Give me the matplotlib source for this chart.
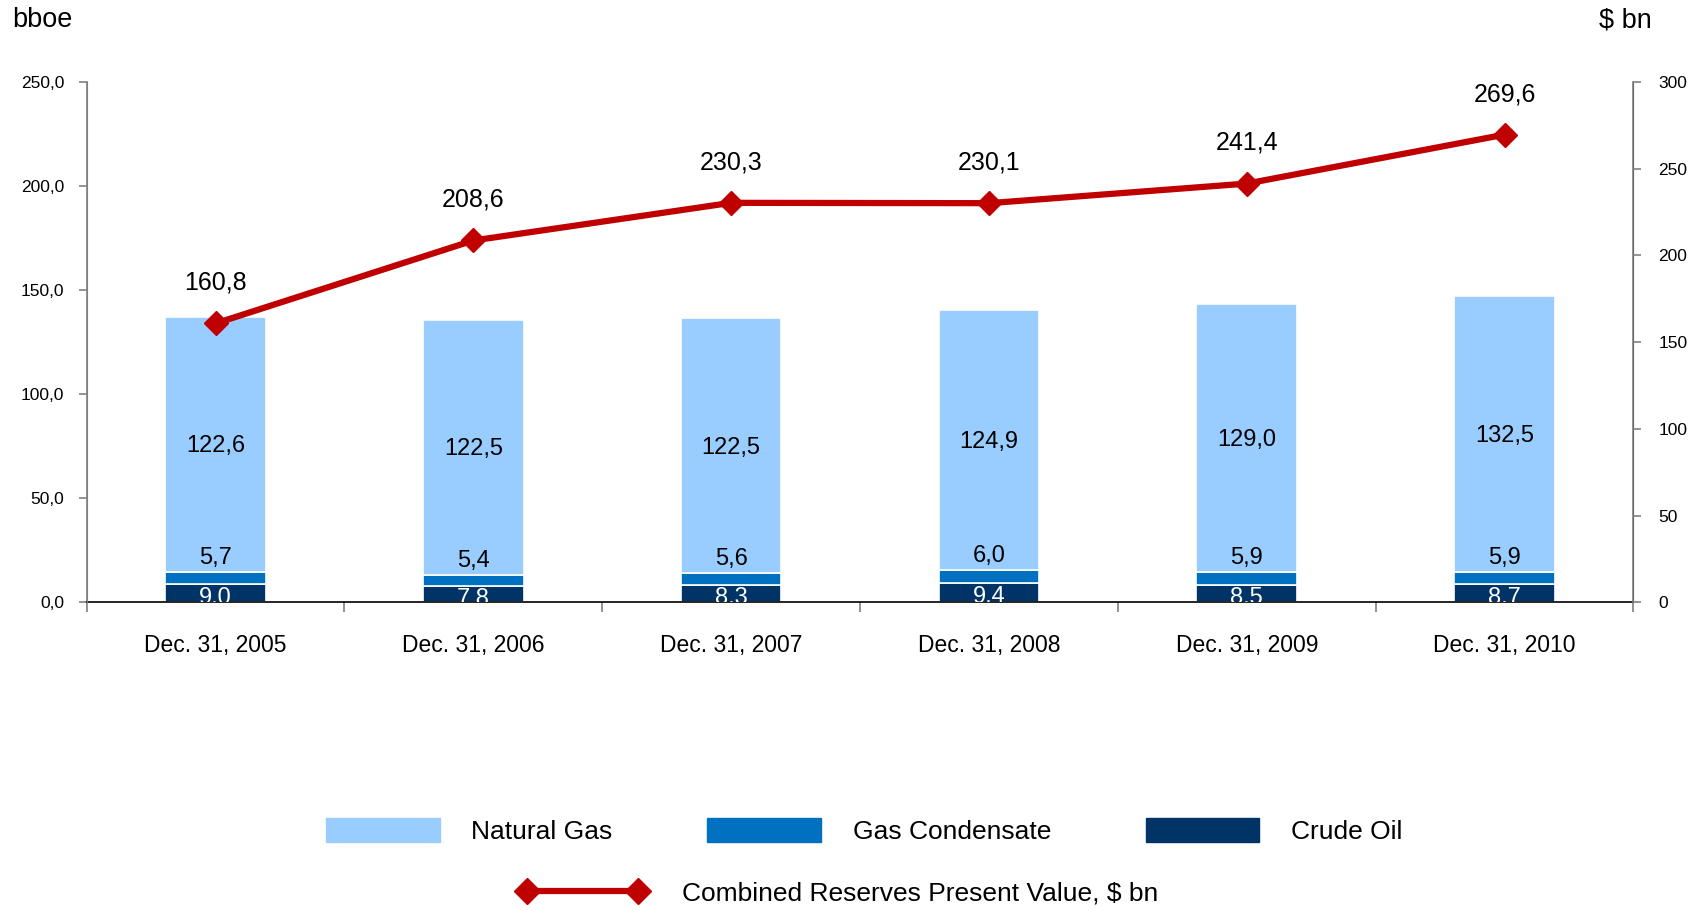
import numpy as np
import matplotlib
matplotlib.use("Agg")
import matplotlib.pyplot as plt
from matplotlib.patches import Patch
from matplotlib.lines import Line2D

plt.rcParams['font.family'] = ['Liberation Sans Narrow', 'Liberation Sans', 'DejaVu Sans']

dates = ["Dec. 31, 2005", "Dec. 31, 2006", "Dec. 31, 2007",
         "Dec. 31, 2008", "Dec. 31, 2009", "Dec. 31, 2010"]
crude_oil = [9.0, 7.8, 8.3, 9.4, 8.5, 8.7]
gas_condensate = [5.7, 5.4, 5.6, 6.0, 5.9, 5.9]
natural_gas = [122.6, 122.5, 122.5, 124.9, 129.0, 132.5]
present_value = [160.8, 208.6, 230.3, 230.1, 241.4, 269.6]

c_gas = "#99CCFF"
c_cond = "#0070C0"
c_oil = "#003366"
c_line = "#C00000"


def fmt(v):
    return ("%.1f" % v).replace(".", ",")


fig = plt.figure(figsize=(16.98, 9.10), dpi=100)
ax = fig.add_axes([0.051, 0.338, 0.911, 0.572])
ax2 = ax.twinx()

x = np.arange(len(dates))
w = 0.39
oil = np.array(crude_oil)
cond = np.array(gas_condensate)
gas = np.array(natural_gas)

ax.bar(x, oil, w, color=c_oil, edgecolor="white", linewidth=1.2, zorder=2)
ax.bar(x, cond, w, bottom=oil, color=c_cond, edgecolor="white", linewidth=1.2, zorder=2)
ax.bar(x, gas, w, bottom=oil + cond, color=c_gas, edgecolor="white", linewidth=1.2, zorder=2)

for i in range(len(x)):
    # crude oil labels sit low and get cut by the axis, like the original
    ax.text(x[i], oil[i] / 2 - 2.2, fmt(oil[i]), ha="center", va="center",
            color="white", fontsize=17, clip_on=True, zorder=3)
    ax.text(x[i], oil[i] + cond[i] + 1.5, fmt(cond[i]), ha="center", va="bottom",
            color="black", fontsize=17, zorder=3)
    ax.text(x[i], oil[i] + cond[i] + gas[i] / 2 - 1, fmt(gas[i]), ha="center", va="center",
            color="black", fontsize=17, zorder=3)

ax.set_xlim(-0.5, len(dates) - 0.5)
ax.set_ylim(0, 250)
ax.set_yticks(np.arange(0, 251, 50))
ax.set_yticklabels([fmt(v) for v in np.arange(0, 251, 50)], fontsize=12.5)
ax.set_xticks(x)
ax.set_xticklabels(dates, fontsize=16.5)
ax.tick_params(axis="x", length=0, pad=23)
ax.set_xticks(np.arange(-0.5, len(dates)), minor=True)
ax.tick_params(axis="x", which="minor", length=7, color="#808080", width=1.2)
ax.tick_params(axis="y", length=6, color="#808080", width=1.2, pad=10)

ax.spines["top"].set_visible(False)
ax2.spines["top"].set_visible(False)
ax.spines["left"].set_color("#808080")
ax2.spines["left"].set_color("#808080")
ax2.spines["right"].set_color("#808080")
ax.spines["left"].set_linewidth(1.2)
ax2.spines["right"].set_linewidth(1.2)
ax.spines["bottom"].set_color("black")
ax.spines["bottom"].set_linewidth(1.2)
ax2.spines["bottom"].set_visible(False)

ax2.plot(x, present_value, color=c_line, linewidth=4.5, marker="D", markersize=12,
         zorder=5)
for i in range(len(x)):
    ax2.text(x[i], present_value[i] + 16.5, fmt(present_value[i]), ha="center", va="bottom",
             fontsize=18)
ax2.set_ylim(0, 300)
ax2.set_yticks(np.arange(0, 301, 50))
ax2.set_yticklabels([str(v) for v in np.arange(0, 301, 50)], fontsize=12.5)
ax2.tick_params(axis="y", length=6, color="#808080", width=1.2, pad=12)
ax2.set_zorder(ax.get_zorder() + 1)
ax2.patch.set_visible(False)

fig.text(0.007, 0.978, "bboe", fontsize=19.5, va="center", ha="left")
fig.text(0.9725, 0.978, "$ bn", fontsize=19.5, va="center", ha="right")

handles = [Patch(color=c_gas, label="Natural Gas"),
           Patch(color=c_cond, label="Gas Condensate"),
           Patch(color=c_oil, label="Crude Oil")]
fig.legend(handles=handles, loc="center", bbox_to_anchor=(0.509, 0.087), ncol=3,
           frameon=False, fontsize=19, handlelength=4.3, handleheight=1.0,
           handletextpad=1.2, columnspacing=3.6)
line_h = Line2D([0], [0], color=c_line, linewidth=4.5, marker="D", markersize=13)
fig.legend(handles=[line_h], labels=["Combined Reserves Present Value, $ bn"],
           loc="center", bbox_to_anchor=(0.494, 0.018), frameon=False, fontsize=19,
           numpoints=2, handlelength=4.8, handletextpad=1.4)

fig.savefig("out.png", dpi=100)
